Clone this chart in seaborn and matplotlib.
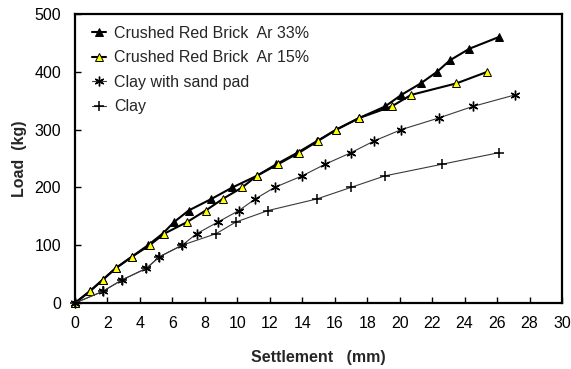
import matplotlib
matplotlib.use("Agg")
import matplotlib.pyplot as plt
import seaborn as sns
import pandas as pd

# Load-settlement test results
brick33_settle = [0, 0.9, 1.7, 2.5, 3.5, 4.5, 5.4, 6.1, 7.0, 8.4, 9.7, 11.2, 12.4, 13.7,
                  14.9, 16.1, 17.5, 19.1, 20.1, 21.3, 22.3, 23.1, 24.3, 26.1]
brick33_load = [0, 20, 40, 60, 80, 100, 120, 140, 160, 180, 200, 220, 240, 260,
                280, 300, 320, 340, 360, 380, 400, 420, 440, 460]

brick15_settle = [0, 0.9, 1.7, 2.5, 3.5, 4.6, 5.5, 6.9, 8.05, 9.1, 10.3, 11.2, 12.5,
                  13.8, 14.95, 16.1, 17.5, 19.5, 20.7, 23.5, 25.4]
brick15_load = [0, 20, 40, 60, 80, 100, 120, 140, 160, 180, 200, 220, 240,
                260, 280, 300, 320, 340, 360, 380, 400]

sandpad_settle = [0, 1.7, 2.9, 4.4, 5.2, 6.6, 7.5, 8.8, 10.1, 11.1, 12.3, 14.0, 15.4,
                  17.0, 18.4, 20.1, 22.4, 24.5, 27.1]
sandpad_load = [0, 20, 40, 60, 80, 100, 120, 140, 160, 180, 200, 220, 240,
                260, 280, 300, 320, 340, 360]

clay_settle = [0, 1.7, 2.9, 4.4, 5.2, 6.6, 8.7, 9.9, 11.9, 14.9, 17.0, 19.1, 22.6, 26.1]
clay_load = [0, 20, 40, 60, 80, 100, 120, 140, 160, 180, 200, 220, 240, 260]

series_names = ["Crushed Red Brick  Ar 33%", "Crushed Red Brick  Ar 15%",
                "Clay with sand pad", "Clay"]

x_ticks = list(range(0, 31, 2))
y_ticks = list(range(0, 501, 100))

sns.set_style("white")
plt.rcParams["font.family"] = ["Liberation Sans", "DejaVu Sans"]

FS = 11.5

fig = plt.figure(figsize=(5.71, 3.69), dpi=100)
ax = fig.add_axes([75 / 571, 1 - 303 / 369, (562 - 75) / 571, (303 - 14) / 369])

styles = [
    dict(color="black", lw=1.5, marker="^", ms=5.8, mfc="black", mec="black", mew=0.7),
    dict(color="black", lw=1.5, marker="^", ms=5.8, mfc="#ffff00", mec="black", mew=0.7),
    dict(color="#3a3a3a", lw=0.8, marker=(6, 2, 0), ms=7, mfc="none", mec="black", mew=1.0),
    dict(color="#3a3a3a", lw=0.8, marker="+", ms=7, mfc="none", mec="black", mew=1.1),
]
data = [(brick33_settle, brick33_load), (brick15_settle, brick15_load),
        (sandpad_settle, sandpad_load), (clay_settle, clay_load)]

for name, (xs, ys), st in zip(series_names, data, styles):
    df = pd.DataFrame({"Settlement": xs, "Load": ys})
    sns.lineplot(data=df, x="Settlement", y="Load", ax=ax, sort=False,
                 estimator=None, label=name, color=st["color"], linewidth=st["lw"],
                 marker=st["marker"], markersize=st["ms"],
                 markerfacecolor=st["mfc"], markeredgecolor=st["mec"],
                 markeredgewidth=st["mew"], clip_on=False)

ax.set_xlim(0, 30)
ax.set_ylim(0, 500)
ax.set_xticks(x_ticks)
ax.set_yticks(y_ticks)
ax.tick_params(axis="both", direction="in", length=4, width=1, labelsize=FS,
               colors="black", bottom=True, left=True)
ax.tick_params(axis="x", pad=9)
ax.tick_params(axis="y", pad=10)
for sp in ax.spines.values():
    sp.set_visible(True)
    sp.set_color("black")
    sp.set_linewidth(1.6)

ax.set_xlabel("Settlement   (mm)", fontsize=FS, fontweight="bold", labelpad=14)
ax.set_ylabel("Load  (kg)", fontsize=FS, fontweight="bold", labelpad=5)

leg = ax.legend(loc="upper left", frameon=False, fontsize=FS, handlelength=0.9,
                handletextpad=0.5, labelspacing=0.6, borderaxespad=0, borderpad=0,
                bbox_to_anchor=(0.035, 0.96))

fig.savefig("out.png", dpi=100)
